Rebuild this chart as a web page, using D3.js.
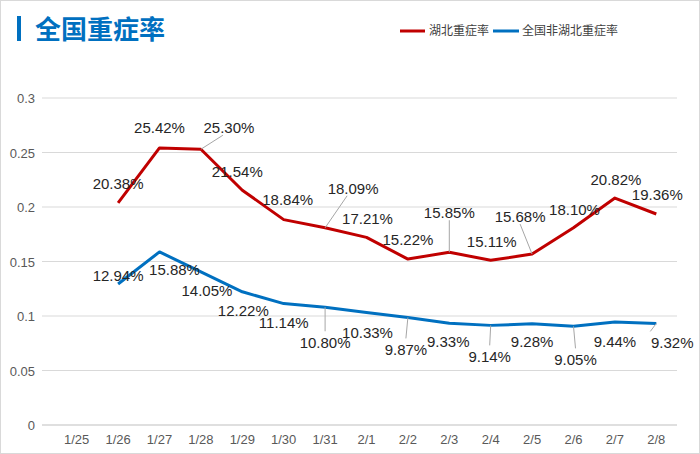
<!DOCTYPE html><html><head><meta charset="utf-8"><script src="https://cdn.jsdelivr.net/npm/d3@7"></script>
<style>body{margin:0;background:#fff}</style></head><body><svg id="c" width="700" height="454"></svg><script>
const dates=["1/25","1/26","1/27","1/28","1/29","1/30","1/31","2/1","2/2","2/3","2/4","2/5","2/6","2/7","2/8"];
const hubei=[null,0.2038,0.2542,0.2530,0.2154,0.1884,0.1809,0.1721,0.1522,0.1585,0.1511,0.1568,0.1810,0.2082,0.1936];
const others=[null,0.1294,0.1588,0.1405,0.1222,0.1114,0.1080,0.1033,0.0987,0.0933,0.0914,0.0928,0.0905,0.0944,0.0932];
const yTicks=[0,0.05,0.1,0.15,0.2,0.25,0.3];
const yTickLabels=["0","0.05","0.1","0.15","0.2","0.25","0.3"];
// label offsets (dx,dy) relative to point, layout only
const hubeiLab=[null,[0,-19],[0,-20],[28,-21],[-5,-18],[4,-20],[28,-39],[1,-18],[0,-19],[0,-39],[1,-18],[-12,-37],[1,-18],[1,-18],[1,-19]];
const otherLab=[null,[0,-8],[15,18],[6,19],[1,19],[0,19],[0,36],[1,21],[-2,33],[-1,19],[-1,32],[0,18],[2,34],[0,20],[16,20]];
const svg=d3.select("#c");
svg.append("rect").attr("x",0.5).attr("y",0.5).attr("width",699).attr("height",453).attr("fill","#fff").attr("stroke","#d9d9d9");
const x=d3.scaleBand().domain(dates).range([56,677]);
const y=d3.scaleLinear().domain([0,0.3]).range([425,98]);
const cx=d=>x(d)+x.bandwidth()/2;
svg.append("g").selectAll("line").data(yTicks).join("line").attr("x1",42).attr("x2",677).attr("y1",d=>y(d)).attr("y2",d=>y(d)).attr("stroke",(d)=>d===0?"#bfbfbf":"#d9d9d9");
svg.append("g").selectAll("text").data(yTicks).join("text").attr("x",35).attr("y",d=>y(d)+5).attr("text-anchor","end").attr("font-family","Liberation Sans,Arial").attr("font-size",13).attr("fill","#595959").text((d,i)=>yTickLabels[i]);
svg.append("g").selectAll("text").data(dates).join("text").attr("x",d=>cx(d)).attr("y",444).attr("text-anchor","middle").attr("font-family","Liberation Sans,Arial").attr("font-size",13).attr("fill","#595959").text(d=>d);
function series(vals,labs,leads,col){
 const pts=vals.map((v,i)=>[dates[i],v,labs[i]]).filter(p=>p[1]!=null);
 svg.append("path").datum(pts).attr("fill","none").attr("stroke",col).attr("stroke-width",3).attr("stroke-linejoin","round")
  .attr("d",d3.line().x(p=>cx(p[0])).y(p=>y(p[1])));
 pts.forEach(p=>{const i=dates.indexOf(p[0]);const px=cx(p[0]),py=y(p[1]);const lx=px+p[2][0],ly=py+p[2][1];
  if(leads.includes(i)){const ex=Math.abs(p[2][0])>14?lx-Math.sign(p[2][0])*(i===14?22:6):lx;svg.append("line").attr("x1",px).attr("y1",py).attr("x2",ex).attr("y2",ly+(p[2][1]<0?7:-12)).attr("stroke","#a6a6a6");}
  svg.append("text").attr("x",lx).attr("y",ly+5).attr("text-anchor","middle").attr("font-family","Liberation Sans,Arial").attr("font-size",15).attr("fill","#262626").text((p[1]*100).toFixed(2)+"%");});
}
series(hubei,hubeiLab,[3,6,9,11],"#c00000");
series(others,otherLab,[6,8,10,12,14],"#0070c0");
svg.append("rect").attr("x",17).attr("y",16).attr("width",4).attr("height",25).attr("fill","#0070c0");
svg.append("text").attr("x",35).attr("y",39).attr("font-family","Noto Sans CJK SC").attr("font-weight","bold").attr("font-size",26).attr("fill","#0070c0").text("全国重症率");
const lg=svg.append("g").attr("font-family","Noto Sans CJK SC").attr("font-size",12).attr("fill","#404040");
lg.append("line").attr("x1",400).attr("x2",425).attr("y1",31).attr("y2",31).attr("stroke","#c00000").attr("stroke-width",3);
lg.append("text").attr("x",429).attr("y",35).text("湖北重症率");
lg.append("line").attr("x1",493).attr("x2",519).attr("y1",31).attr("y2",31).attr("stroke","#0070c0").attr("stroke-width",3);
lg.append("text").attr("x",522).attr("y",35).text("全国非湖北重症率");
</script></body></html>
